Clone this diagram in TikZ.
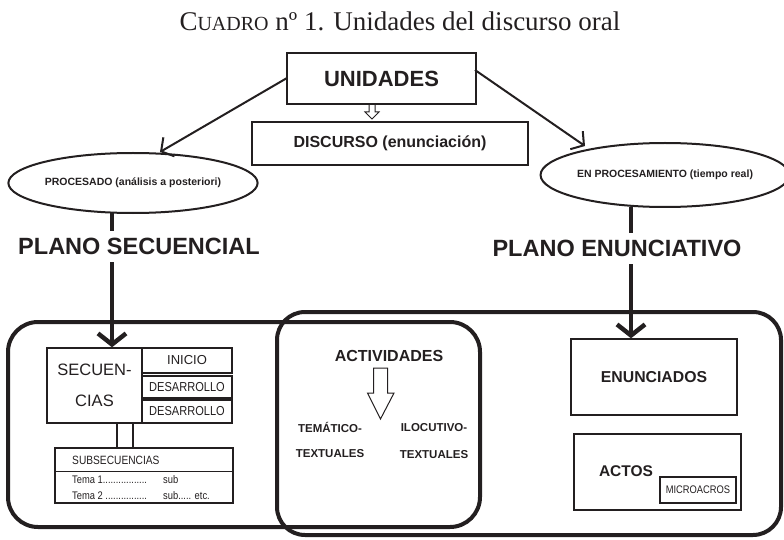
\documentclass[tikz,border=0pt]{standalone}
\usepackage{fontspec}
\setmainfont{Liberation Serif}
\setsansfont{Liberation Sans}
\newfontfamily\narrowsans[FakeStretch=0.85]{Liberation Sans}
\usetikzlibrary{arrows.meta,shapes.geometric,calc}
\definecolor{ink}{RGB}{35,31,32}
\begin{document}
\begin{tikzpicture}[x=1pt,y=-1pt,
  every node/.style={text=ink},
  box/.style={draw=ink, line width=2.2pt, inner sep=0pt},
  thinbox/.style={draw=ink, line width=1.4pt, inner sep=0pt},
  ell/.style={draw=ink, ellipse, line width=2pt, inner sep=0pt, minimum width=230pt},
  thinarrow/.style={draw=ink, line width=2pt, -{Straight Barb[length=9pt,width=22pt,line width=2pt]}},
  thickarrow/.style={draw=ink, line width=4.5pt, -{Straight Barb[length=11pt,width=28pt,line width=4.5pt]}},
  bigframe/.style={draw=ink, line width=4pt, rounded corners=30pt},
  plano/.style={font=\sffamily\bfseries\fontsize{23.5}{26}\selectfont, fill=white, inner xsep=2pt, inner ysep=7pt, text depth=0pt},
  bsans/.style={font=\sffamily\bfseries\fontsize{#1}{#1}\selectfont, inner sep=0pt},
  nsans/.style={font=\narrowsans\fontsize{#1}{#1}\selectfont, inner sep=0pt}
]
\useasboundingbox (0,0) rectangle (784,540);

% title
\node[anchor=base, inner sep=0pt] (title) at (400,31)
  {\fontsize{27}{30}\selectfont C\fontsize{20}{30}\selectfont UADRO\fontsize{27}{30}\selectfont{} nº 1. Unidades del discurso oral};

% top boxes
\node[box, minimum width=189pt, minimum height=51pt, font=\sffamily\bfseries\fontsize{22}{22}\selectfont] (unid) at (381.5,78.5) {UNIDADES};
\node[box, minimum width=276pt, minimum height=43pt, font=\sffamily\bfseries\fontsize{16}{16}\selectfont] (disc) at (390,143.5) {DISCURSO (enunciación)};
\coordinate (ha) at (372,105);
\draw[ink, line width=1pt] ($(ha)+(-3,0)$) -- ++(0,7) -- ++(-4,0) -- ($(ha)+(0,14)$) -- ($(ha)+(7,7)$) -- ++(-4,0) -- ++(0,-7);

% ellipses
\node[ell, minimum height=60pt, font=\sffamily\bfseries\fontsize{10.5}{10.5}\selectfont] (proc) at (133,183) {PROCESADO (análisis a posteriori)};
\node[ell, minimum height=64pt, font=\sffamily\bfseries\fontsize{10.5}{10.5}\selectfont] (enproc) at (665,175) {EN PROCESAMIENTO (tiempo real)};

% thin arrows
\coordinate (ustartL) at (287,78);
\coordinate (ustartR) at (475,70);
\draw[thinarrow] (ustartL) -- (160,152);
\draw[thinarrow] (ustartR) -- (585,146);

% big frames
\draw[bigframe] (8,322) rectangle (480,527);
\draw[bigframe, rounded corners=28pt] (277,312) rectangle (781,535);

% secuencias block
\node[thinbox, minimum width=95pt, minimum height=75pt, align=center, font=\sffamily\fontsize{16.5}{31}\selectfont] (sec) at (94.5,385.5) {SECUEN-\\CIAS};
\node[thinbox, minimum width=90pt, minimum height=25pt, font=\sffamily\fontsize{13}{13}\selectfont] (ini) at (187,360.5) {INICIO};
\node[thinbox, minimum width=90pt, minimum height=22pt, font=\narrowsans\fontsize{13}{13}\selectfont] (des1) at (187,387) {DESARROLLO};
\node[thinbox, minimum width=90pt, minimum height=23pt, font=\narrowsans\fontsize{13}{13}\selectfont] (des2) at (187,411.5) {DESARROLLO};

\node[thinbox, minimum width=178pt, minimum height=55pt] (sub) at (144,475.5) {};
\coordinate (divy) at (0,471);
\draw[ink, line width=1pt] (sub.west |- divy) -- (sub.east |- divy);
\node[nsans=12, anchor=west] (subt) at (72,460) {SUBSECUENCIAS};
\node[nsans=11, anchor=west] (t1) at (72,480) {Tema 1.................};
\node[nsans=11, anchor=west] (s1) at (163,480) {sub};
\node[nsans=11, anchor=west] (t2) at (72,496) {Tema 2 ................};
\node[nsans=11, anchor=west] (s2) at (163,496) {sub..... etc.};
\coordinate (dl1) at (117,0);
\coordinate (dl2) at (133,0);
\draw[ink, line width=2pt] (sec.south -| dl1) -- (sub.north -| dl1);
\draw[ink, line width=2pt] (sec.south -| dl2) -- (sub.north -| dl2);

% actividades
\node[bsans=16] (act) at (389,356) {ACTIVIDADES};
\coordinate (ha2) at (380.5,368);
\draw[ink, line width=1pt] ($(ha2)+(-7,0)$) -- ++(0,25) -- ++(-6,0) -- ($(ha2)+(0,51)$) -- ($(ha2)+(13.5,25)$) -- ++(-6.5,0) -- ++(0,-25) -- cycle;
\node[bsans=11.5] (tem1) at (330,427) {TEMÁTICO-};
\node[bsans=11.5] (tem2) at (330,454) {TEXTUALES};
\node[bsans=11.5] (ilo1) at (434,428) {ILOCUTIVO-};
\node[bsans=11.5] (ilo2) at (434,455) {TEXTUALES};

% enunciados and actos
\node[thinbox, minimum width=166pt, minimum height=76pt, font=\sffamily\bfseries\fontsize{15.8}{15.8}\selectfont] (enun) at (654,377) {ENUNCIADOS};
\node[thinbox, minimum width=167pt, minimum height=76pt] (actos) at (657.5,472) {};
\node[bsans=15.5] (actost) at (626,471) {ACTOS};
\node[draw=ink, line width=1.8pt, minimum width=76pt, minimum height=26pt, inner sep=0pt, font=\narrowsans\fontsize{11}{11}\selectfont] (micro) at (698,490) {MICROACROS};

% thick arrows with plane labels
\coordinate (la) at (112,212);
\coordinate (ra) at (631,207);
\draw[thickarrow] (la) -- (la |- sec.north);
\draw[thickarrow] (ra) -- (ra |- enun.north);
\node[plano] (ps) at (139,246.5) {PLANO SECUENCIAL};
\node[plano] (pe) at (617,248.5) {PLANO ENUNCIATIVO};
\end{tikzpicture}
\end{document}
